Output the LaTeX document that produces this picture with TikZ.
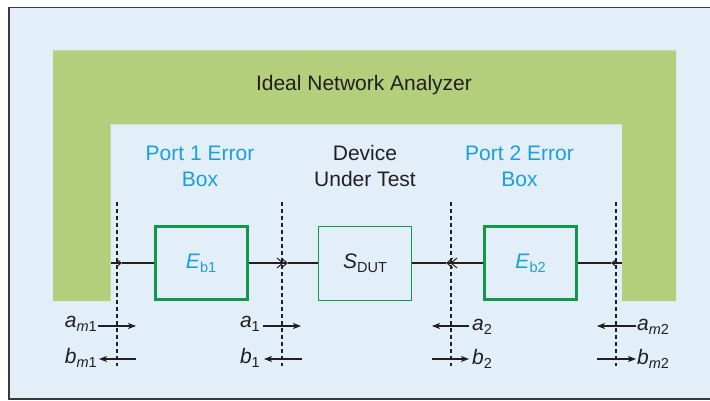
\documentclass[tikz,border=0pt]{standalone}
\usepackage{fontspec}
\setmainfont{Liberation Sans}
\usetikzlibrary{arrows.meta}
\definecolor{bgblue}{HTML}{E2EFF9}
\definecolor{nagreen}{HTML}{B4CF7C}
\definecolor{boxgreen}{HTML}{10994A}
\definecolor{portcyan}{HTML}{1A9FDB}
\definecolor{inkdark}{HTML}{231F20}
\definecolor{framegray}{HTML}{3A3A3A}
\newcommand{\mylab}[2]{\textit{#1}\raisebox{-4pt}{\fontsize{14.5}{15}\selectfont #2}}
\tikzset{
  title/.style={font=\fontsize{21}{26}\selectfont, align=center, inner sep=0pt},
  errbox/.style={draw=boxgreen, line width=3pt, fill=bgblue, minimum width=92pt, minimum height=73pt, inner sep=0pt, font=\fontsize{21}{26}\selectfont, text=portcyan},
  dutbox/.style={draw=boxgreen, line width=1.3pt, fill=bgblue, minimum width=93pt, minimum height=74pt, inner sep=0pt, font=\fontsize{21}{26}\selectfont, text=inkdark},
  wire/.style={draw=inkdark, line width=1.1pt},
  refplane/.style={draw=inkdark, line width=1.1pt, dash pattern=on 4pt off 3pt},
  sig/.style={draw=inkdark, line width=1.1pt, -{Stealth[length=8pt,width=6pt,inset=2pt]}},
  lab/.style={font=\fontsize{21}{26}\selectfont, text=inkdark, inner sep=0pt},
  chev/.style={-{Straight Barb[length=5pt,width=8pt,line width=1pt]}},
  dchev/.style={-{Straight Barb[length=6pt,width=10pt,line width=1pt,sep=-3pt] Straight Barb[length=6pt,width=10pt,line width=1pt]}}
}
\begin{document}
\begin{tikzpicture}[x=1pt,y=-1pt]
\useasboundingbox (0,0) rectangle (710,401);
% frame
\draw[fill=bgblue, draw=framegray, line width=1.6pt] (9,7.5) rectangle (725,399);
% ideal network analyzer
\fill[nagreen] (53,50.5) -- (676,50.5) -- (676,301) -- (622,301) -- (622,124.5) -- (110.5,124.5) -- (110.5,301) -- (53,301) -- cycle;
\node[title, text=inkdark] (ina) at (364,85.5) {Ideal Network Analyzer};
% headings
\node[title, text=portcyan] (p1t) at (200,166) {Port 1 Error\\Box};
\node[title, text=inkdark] (dutt) at (365,166) {Device\\Under Test};
\node[title, text=portcyan] (p2t) at (519.5,166) {Port 2 Error\\Box};
% boxes
\node[errbox] (eb1) at (201,263) {\mylab{E}{b1}};
\node[dutbox] (dut) at (365,263.5) {\mylab{S}{\upshape DUT}};
\node[errbox] (eb2) at (530.5,263) {\mylab{E}{b2}};
% reference planes
\coordinate (r1t) at (117,202); \coordinate (r1b) at (117,366);
\coordinate (r2t) at (282,202); \coordinate (r2b) at (282,366);
\coordinate (r3t) at (451,202); \coordinate (r3b) at (451,366);
\coordinate (r4t) at (616,202); \coordinate (r4b) at (616,366);
\draw[refplane] (r1t) -- (r1b);
\draw[refplane] (r2t) -- (r2b);
\draw[refplane] (r3t) -- (r3b);
\draw[refplane] (r4t) -- (r4b);
% main line
\coordinate (pl) at (110.5,263);
\coordinate (pr) at (622,263);
\coordinate (k1) at (122,263);
\coordinate (k2) at (288,263);
\coordinate (k3) at (446,263);
\coordinate (k4) at (611,263);
\draw[wire, chev] (pl) -- (k1);
\draw[wire] (k1) -- (eb1.west);
\draw[wire, dchev] (eb1.east) -- (k2);
\draw[wire] (k2) -- (dut.west |- k2);
\draw[wire, dchev] (eb2.west) -- (k3);
\draw[wire] (k3) -- (dut.east |- k3);
\draw[wire, chev] (pr) -- (k4);
\draw[wire] (k4) -- (eb2.east);
% wave labels
\node[lab, anchor=base east] (am1) at (97,327.5) {\mylab{a}{\textit{m}1}};
\node[lab, anchor=base east] (bm1) at (97,363.5) {\mylab{b}{\textit{m}1}};
\node[lab, anchor=base east] (a1) at (260,327.5) {\mylab{a}{1}};
\node[lab, anchor=base east] (b1) at (260,363.5) {\mylab{b}{1}};
\node[lab, anchor=base west] (a2) at (472,330) {\mylab{a}{2}};
\node[lab, anchor=base west] (b2) at (472,364) {\mylab{b}{2}};
\node[lab, anchor=base west] (am2) at (637,330) {\mylab{a}{\textit{m}2}};
\node[lab, anchor=base west] (bm2) at (637,364) {\mylab{b}{\textit{m}2}};
% wave arrows
\coordinate (am1s) at (98,326);  \coordinate (am1e) at (136,326);
\coordinate (bm1s) at (136,359); \coordinate (bm1e) at (99,359);
\coordinate (a1s) at (263,326);  \coordinate (a1e) at (301,326);
\coordinate (b1s) at (302,359);  \coordinate (b1e) at (264,359);
\coordinate (a2s) at (469,326);  \coordinate (a2e) at (432,326);
\coordinate (b2s) at (432,359);  \coordinate (b2e) at (469,359);
\coordinate (am2s) at (636,326); \coordinate (am2e) at (597,326);
\coordinate (bm2s) at (597,359); \coordinate (bm2e) at (636,359);
\draw[sig] (am1s) -- (am1e);
\draw[sig] (bm1s) -- (bm1e);
\draw[sig] (a1s) -- (a1e);
\draw[sig] (b1s) -- (b1e);
\draw[sig] (a2s) -- (a2e);
\draw[sig] (b2s) -- (b2e);
\draw[sig] (am2s) -- (am2e);
\draw[sig] (bm2s) -- (bm2e);
\end{tikzpicture}
\end{document}
